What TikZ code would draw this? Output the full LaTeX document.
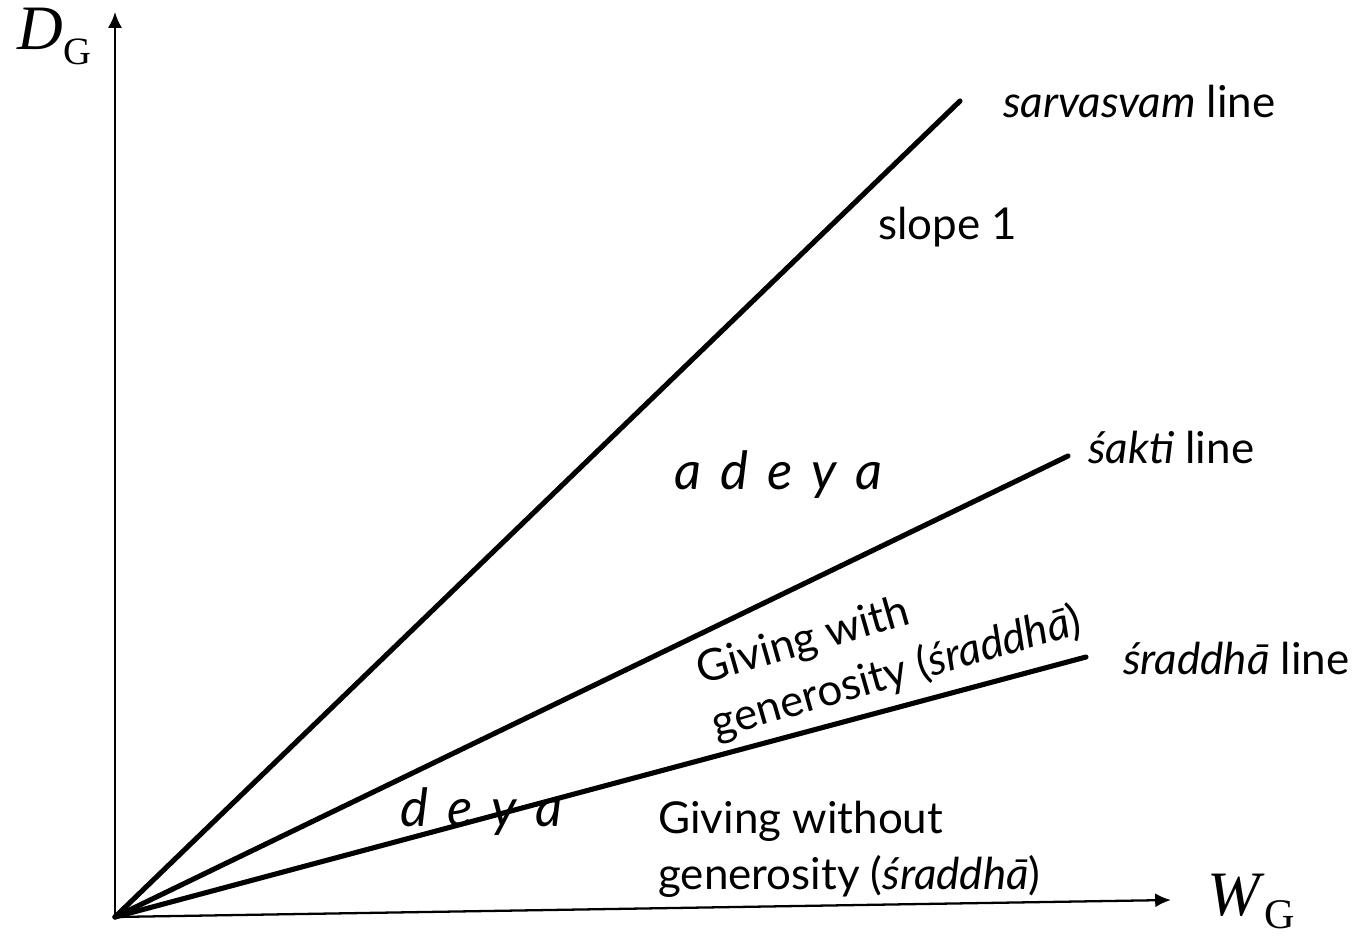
\documentclass[tikz,border=0pt]{standalone}
\usepackage{fontspec}
\setmainfont{Lato}
\newfontfamily\serifmath{Liberation Serif}
\usepackage{tikz}
\usetikzlibrary{calc, arrows.meta, positioning}

\begin{document}
\begin{tikzpicture}[>={Latex[length=9pt,width=8pt]}]
    % Khung ảnh
    \useasboundingbox (0,0) rectangle (27.16,18.76);

    \tikzset{
        axis/.style={line width=1.3pt},
        ray/.style={line width=2.9pt, line cap=round},
        lbl/.style={font=\fontsize{25}{32}\selectfont, inner sep=0pt},
        zone/.style={font=\fontsize{30}{34}\selectfont\itshape, inner sep=0pt},
        axlbl/.style={font=\fontsize{36}{40}\selectfont\serifmath, inner sep=0pt}
    }

    % 1. Các điểm
    \coordinate (O) at (2.30, 0.42);
    \coordinate (ytip) at (2.30, 18.52);
    \coordinate (xtip) at (23.42, 0.76);
    \coordinate (sarv) at (19.20, 16.74);
    \coordinate (sakti) at (21.36, 9.64);
    \coordinate (srad) at (21.72, 5.62);

    % 2. Trục
    \draw[axis, ->] (O) -- (ytip);
    \draw[axis, ->] (O) -- (xtip);

    % 3. Các đường
    \draw[ray] (O) -- (sarv);
    \draw[ray] (O) -- (sakti);
    \draw[ray] (O) -- (srad);

    % 4. Nhãn trục
    \node[axlbl, anchor=base west] (dg) at (0.34, 17.76) {\textit{D}\raisebox{-8pt}{\fontsize{22}{24}\selectfont G}};
    \node[axlbl, anchor=base west] (wg) at (24.14, 0.44) {\textit{W}\raisebox{-7pt}{\fontsize{24}{26}\selectfont G}};

    % 5. Nhãn các đường
    \node[lbl, anchor=base west] (sarvlbl) at (20.06, 16.40) {\textit{sarvasvam} line};
    \node[lbl, anchor=base] (slope) at (18.96, 13.96) {slope 1};
    \node[lbl, anchor=base west] (saktilbl) at (21.76, 9.48) {\textit{śakti} line};
    \node[lbl, anchor=base west] (sradlbl) at (22.46, 5.26) {\textit{śraddhā} line};

    % 6. Vùng
    \node[zone, anchor=base west] (adeya) at (13.48, 8.96)
        {a\hspace{0.36em}d\hspace{0.36em}e\hspace{0.36em}y\hspace{0.36em}a};
    \node[zone, anchor=base west] (deya) at (8.00, 2.22)
        {d\hspace{0.36em}e\hspace{0.36em}y\hspace{0.36em}a};
    \node[lbl, rotate=16, align=left, anchor=north west] (with) at (13.84, 5.70)
        {Giving with\\generosity (\textit{śraddhā})};
    \node[lbl, align=left, anchor=north west] (without) at (13.16, 2.74)
        {Giving without\\generosity (\textit{śraddhā})};
\end{tikzpicture}
\end{document}
